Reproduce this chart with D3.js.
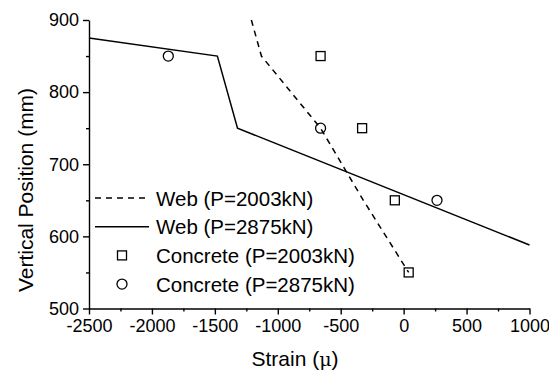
<!DOCTYPE html>
<html>
<head>
<meta charset="utf-8">
<script src="https://cdn.jsdelivr.net/npm/d3@7"></script>
<style>
  body { margin: 0; background: #fff; }
  text { font-family: "Liberation Sans", Arial, sans-serif; fill: #000; }
</style>
</head>
<body>
<svg id="chart"></svg>
<script>
// web strain lines (strain, vertical position)
const web2003 = [[-1210, 900], [-1130, 850], [-660, 750], [-320, 650], [40, 550]];
const web2875 = [[-2500, 875], [-1480, 850], [-1320, 750], [1000, 588]];
// concrete strain points
const conc2003 = [[-660, 850], [-330, 750], [-70, 650], [40, 550]];
const conc2875 = [[-1870, 850], [-660, 750], [265, 650]];

const xTicks = [-2500, -2000, -1500, -1000, -500, 0, 500, 1000];
const yTicks = [500, 600, 700, 800, 900];
const legendLabels = ["Web (P=2003kN)", "Web (P=2875kN)", "Concrete (P=2003kN)", "Concrete (P=2875kN)"];

const width = 549, height = 372;
const svg = d3.select("#chart").attr("width", width).attr("height", height);

const x = d3.scaleLinear().domain([-2500, 1000]).range([89, 529.5]);
const y = d3.scaleLinear().domain([500, 900]).range([308.5, 20]);

// minor ticks first, then the major axis
svg.append("g")
    .attr("transform", `translate(0,${y(500)})`)
    .call(d3.axisBottom(x).tickValues(d3.range(-2250, 1000, 500)).tickSize(3).tickFormat(""))
    .call(g => g.select(".domain").remove());
svg.append("g")
    .attr("transform", `translate(${x(-2500)},0)`)
    .call(d3.axisLeft(y).tickValues(d3.range(550, 900, 100)).tickSize(3).tickFormat(""))
    .call(g => g.select(".domain").remove());

const xAxis = svg.append("g")
    .attr("transform", `translate(0,${y(500)})`)
    .call(d3.axisBottom(x).tickValues(xTicks).tickSize(6).tickSizeOuter(0).tickPadding(5).tickFormat(d3.format("d")));
const yAxis = svg.append("g")
    .attr("transform", `translate(${x(-2500)},0)`)
    .call(d3.axisLeft(y).tickValues(yTicks).tickSize(6).tickSizeOuter(0).tickPadding(4));

svg.selectAll(".tick line, .domain").attr("stroke", "#000").attr("stroke-width", 1.4);
xAxis.selectAll("text").style("font-size", "18px").attr("fill", "#000")
    .text(d => d < 0 ? "-" + Math.abs(d) : d);
yAxis.selectAll("text").style("font-size", "18px").attr("fill", "#000");

// axis titles
svg.append("text")
    .attr("x", 295).attr("y", 366)
    .attr("text-anchor", "middle")
    .style("font-size", "21px")
    .text("Strain (")
    .append("tspan").style("font-family", "'DejaVu Serif', serif").style("font-size", "19px").text("μ")
    .select(function () { return this.parentNode; })
    .append("tspan").text(")");

svg.append("text")
    .attr("transform", "translate(33,190) rotate(-90)")
    .attr("text-anchor", "middle")
    .style("font-size", "21px")
    .text("Vertical Position (mm)");

const line = d3.line().x(d => x(d[0])).y(d => y(d[1]));

svg.append("path").datum(web2003)
    .attr("d", line).attr("fill", "none")
    .attr("stroke", "#000").attr("stroke-width", 1.5).attr("stroke-dasharray", "6,5");
svg.append("path").datum(web2875)
    .attr("d", line).attr("fill", "none")
    .attr("stroke", "#000").attr("stroke-width", 1.5);

svg.selectAll(".sq").data(conc2003).enter().append("rect")
    .attr("x", d => x(d[0]) - 4.5).attr("y", d => y(d[1]) - 4.5)
    .attr("width", 9).attr("height", 9)
    .attr("fill", "none").attr("stroke", "#000").attr("stroke-width", 1.3);
svg.selectAll(".ci").data(conc2875).enter().append("circle")
    .attr("cx", d => x(d[0])).attr("cy", d => y(d[1])).attr("r", 5)
    .attr("fill", "none").attr("stroke", "#000").attr("stroke-width", 1.3);

// legend
const leg = svg.append("g");
const rowY = i => 198 + i * 28.7;
leg.append("line").attr("x1", 95).attr("x2", 149).attr("y1", rowY(0)).attr("y2", rowY(0))
    .attr("stroke", "#000").attr("stroke-width", 1.5).attr("stroke-dasharray", "6,5");
leg.append("line").attr("x1", 95).attr("x2", 149).attr("y1", rowY(1)).attr("y2", rowY(1))
    .attr("stroke", "#000").attr("stroke-width", 1.5);
leg.append("rect").attr("x", 122 - 4.5).attr("y", rowY(2) - 4.5).attr("width", 9).attr("height", 9)
    .attr("fill", "none").attr("stroke", "#000").attr("stroke-width", 1.3);
leg.append("circle").attr("cx", 122).attr("cy", rowY(3)).attr("r", 5)
    .attr("fill", "none").attr("stroke", "#000").attr("stroke-width", 1.3);
leg.selectAll("text.lab").data(legendLabels).enter().append("text")
    .attr("class", "lab")
    .attr("x", 156).attr("y", (d, i) => rowY(i) + 7.5)
    .style("font-size", "20.5px")
    .text(d => d);
</script>
</body>
</html>
